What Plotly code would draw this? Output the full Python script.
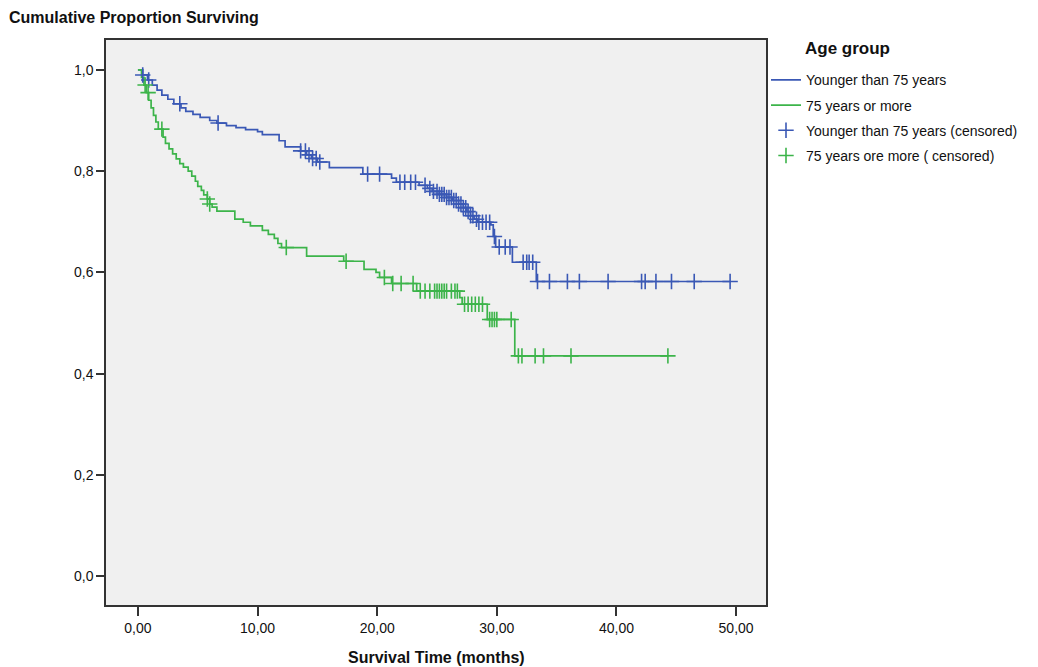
import plotly.graph_objects as go

# ---- Data ----
# Younger than 75 years: event times (months) and survival after each step
young_times = [0.4, 0.8, 1.2, 1.6, 2.0, 2.5, 3.0, 3.6, 4.0, 4.6, 5.2, 6.0, 6.6, 7.4, 8.2, 9.0,
               10.0, 10.4, 11.8, 12.3, 13.6, 14.1, 14.5, 15.0, 16.0, 18.8, 21.2, 21.6,
               23.5, 24.2, 24.6, 25.2, 25.8, 26.3, 26.8, 27.2, 27.5, 27.8, 28.1, 28.4,
               29.5, 29.7, 29.9, 31.3, 33.3]
young_surv = [0.990, 0.980, 0.970, 0.960, 0.950, 0.942, 0.933, 0.925, 0.918, 0.912, 0.906, 0.900,
              0.895, 0.890, 0.886, 0.882, 0.878, 0.872, 0.860, 0.848, 0.840, 0.832, 0.825, 0.818,
              0.807, 0.794, 0.786, 0.778, 0.772, 0.766, 0.760, 0.754, 0.748, 0.742, 0.735,
              0.728, 0.720, 0.712, 0.705, 0.699, 0.694, 0.671, 0.650, 0.620, 0.582]
young_censored = [0.4, 0.9, 3.5, 6.7, 13.6, 14.0, 14.3, 14.6, 14.9, 15.2, 19.2, 20.2, 21.9, 22.3,
                  22.8, 23.2, 24.0, 24.4, 24.7, 25.0, 25.2, 25.4, 25.6, 25.8, 26.0, 26.2, 26.4,
                  26.6, 26.8, 27.0, 27.2, 27.4, 27.6, 27.8, 28.0, 28.3, 28.5, 28.8, 29.1, 29.4,
                  29.8, 30.2, 30.7, 31.1, 32.2, 32.5, 32.7, 33.0, 33.4, 34.4, 35.9, 36.9, 39.3,
                  42.1, 42.4, 43.3, 44.6, 46.5, 49.5]

# 75 years or more
old_times = [0.3, 0.5, 0.7, 0.9, 1.1, 1.3, 1.5, 1.7, 2.1, 2.3, 2.6, 2.9, 3.2, 3.5, 3.8, 4.2,
             4.5, 4.8, 5.0, 5.3, 5.5, 5.8, 6.0, 6.2, 6.6, 8.1, 8.8, 9.4, 10.4, 10.9, 11.4,
             11.7, 12.0, 14.1, 17.2, 18.9, 19.9, 20.2, 21.2, 23.3, 26.9, 27.1, 29.2, 31.5]
old_surv = [0.985, 0.970, 0.955, 0.940, 0.925, 0.910, 0.897, 0.883, 0.867, 0.855, 0.844, 0.834,
            0.824, 0.815, 0.808, 0.800, 0.790, 0.780, 0.770, 0.762, 0.753, 0.745, 0.735, 0.729,
            0.721, 0.705, 0.699, 0.692, 0.683, 0.675, 0.667, 0.657, 0.649, 0.632, 0.622,
            0.606, 0.600, 0.590, 0.578, 0.563, 0.550, 0.537, 0.507, 0.435]
old_censored = [0.6, 0.85, 2.0, 5.8, 6.0, 12.4, 17.4, 20.6, 21.3, 22.0, 23.0, 23.6, 24.0, 24.4,
                24.8, 25.0, 25.2, 25.4, 25.6, 25.8, 26.2, 26.5, 26.7, 27.3, 27.6, 27.9, 28.2,
                28.5, 28.8, 29.4, 29.6, 29.8, 30.0, 31.2, 31.8, 32.1, 33.2, 33.9, 36.2, 44.3]

x_ticks = [0, 10, 20, 30, 40, 50]
y_ticks = [0.0, 0.2, 0.4, 0.6, 0.8, 1.0]

BLUE = "#3a58b5"
GREEN = "#3cb44a"
FONT = "Liberation Sans"


def step_xy(times, surv, end):
    xs = [0.0] + list(times) + [end]
    ys = [1.0] + list(surv) + [surv[-1]]
    return xs, ys


def surv_at(t, times, surv):
    v = 1.0
    for ti, si in zip(times, surv):
        if ti <= t:
            v = si
        else:
            break
    return v


fig = go.Figure()

yx, yy = step_xy(young_times, young_surv, max(young_censored))
ox, oy = step_xy(old_times, old_surv, max(old_censored))

fig.add_trace(go.Scatter(x=yx, y=yy, mode="lines", line=dict(color=BLUE, width=1.7, shape="hv"),
                         name="Younger than 75 years", legendgroup="a"))
fig.add_trace(go.Scatter(x=ox, y=oy, mode="lines", line=dict(color=GREEN, width=1.7, shape="hv"),
                         name="75 years or more", legendgroup="b"))
fig.add_trace(go.Scatter(x=young_censored,
                         y=[surv_at(t, young_times, young_surv) for t in young_censored],
                         mode="markers",
                         marker=dict(symbol="cross-thin", size=11, line=dict(color=BLUE, width=1.6)),
                         name="Younger than 75 years (censored)", legendgroup="c"))
fig.add_trace(go.Scatter(x=old_censored,
                         y=[surv_at(t, old_times, old_surv) for t in old_censored],
                         mode="markers",
                         marker=dict(symbol="cross-thin", size=11, line=dict(color=GREEN, width=1.6)),
                         name="75 years ore more ( censored)", legendgroup="d"))

fig.update_layout(
    width=1038, height=667,
    margin=dict(l=98, r=280, t=32, b=70),
    paper_bgcolor="white",
    plot_bgcolor="#f0f0f0",
    separators=",.",
    font=dict(family=FONT, size=14, color="#111"),
    showlegend=True,
    legend=dict(
        x=1.0, y=0.957, xanchor="left", yanchor="top",
        font=dict(family=FONT, size=14, color="#111"),
        tracegroupgap=4,
        bgcolor="rgba(0,0,0,0)",
    ),
    xaxis=dict(
        range=[-2.67, 52.5], tickvals=x_ticks, tickformat=".2f",
        ticks="outside", ticklen=9, tickwidth=1.5, tickcolor="#333",
        showline=True, linecolor="#333", linewidth=1.5, mirror=True,
        showgrid=False, zeroline=False,
        tickfont=dict(family=FONT, size=14),
    ),
    yaxis=dict(
        range=[-0.057, 1.059], tickvals=y_ticks, tickformat=".1f",
        ticks="outside", ticklen=8, tickwidth=1.5, tickcolor="#333",
        showline=True, linecolor="#333", linewidth=1.5, mirror=True,
        showgrid=False, zeroline=False,
        tickfont=dict(family=FONT, size=14),
    ),
    annotations=[
        dict(text="<b>Cumulative Proportion Surviving</b>", xref="paper", yref="paper",
             x=-0.15, y=1.021, xanchor="left", yanchor="bottom", showarrow=False,
             font=dict(family=FONT, size=16, color="#111")),
        dict(text="<b>Survival Time (months)</b>", xref="paper", yref="paper",
             x=0.5, y=-0.074, xanchor="center", yanchor="top", showarrow=False,
             font=dict(family=FONT, size=16, color="#111")),
        dict(text="<b>Age group</b>", xref="paper", yref="paper",
             x=1.056, y=1.006, xanchor="left", yanchor="top", showarrow=False,
             font=dict(family=FONT, size=17, color="#111")),
    ],
)

fig.write_html("out.html")
